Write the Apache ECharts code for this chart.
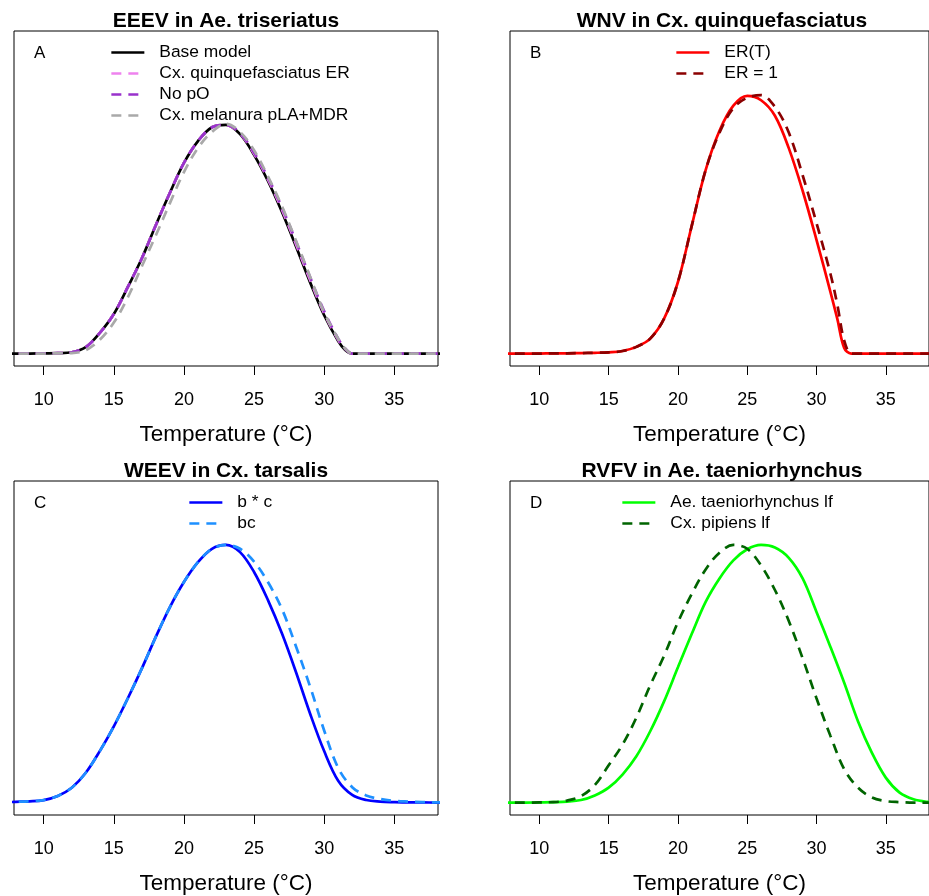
<!DOCTYPE html>
<html>
<head>
<meta charset="utf-8">
<script src="https://cdn.jsdelivr.net/npm/echarts@6/dist/echarts.min.js"></script>
<style>
  html, body { margin: 0; padding: 0; background: #ffffff; }
  #chart { width: 929px; height: 896px; }
</style>
</head>
<body>
<div id="chart"></div>
<script>
// ---- Panel A: EEEV in Ae. triseriatus (relative R0 vs temperature) ----
const tempsA = [7, 8, 9, 10, 11, 12, 13, 14, 15, 16, 17, 18, 19, 20, 21, 22, 23, 24, 25, 26, 27, 28, 29, 30, 31, 31.5, 32, 33, 34, 35, 36, 37, 38, 39];
const baseModel = [0, 0, 0, 0.001, 0.002, 0.006, 0.028, 0.09, 0.172, 0.29, 0.415, 0.56, 0.70, 0.83, 0.925, 0.985, 0.995, 0.955, 0.865, 0.75, 0.615, 0.465, 0.31, 0.167, 0.055, 0.016, 0, 0, 0, 0, 0, 0, 0, 0];
const quinqER   = [0, 0, 0, 0.001, 0.002, 0.006, 0.028, 0.09, 0.172, 0.29, 0.415, 0.56, 0.70, 0.83, 0.925, 0.985, 0.995, 0.958, 0.87, 0.757, 0.625, 0.475, 0.32, 0.175, 0.06, 0.02, 0, 0, 0, 0, 0, 0, 0, 0];
const noPO      = [0, 0, 0, 0.001, 0.002, 0.006, 0.028, 0.09, 0.172, 0.29, 0.415, 0.56, 0.70, 0.83, 0.925, 0.985, 0.995, 0.96, 0.875, 0.765, 0.635, 0.487, 0.332, 0.185, 0.065, 0.022, 0, 0, 0, 0, 0, 0, 0, 0];
const melanura  = [0, 0, 0, 0, 0.001, 0.002, 0.015, 0.06, 0.135, 0.245, 0.38, 0.515, 0.655, 0.79, 0.895, 0.965, 1.0, 0.965, 0.885, 0.77, 0.64, 0.49, 0.335, 0.18, 0.065, 0.022, 0, 0, 0, 0, 0, 0, 0, 0];

// ---- Panel B: WNV in Cx. quinquefasciatus ----
const tempsB = [7, 8, 9, 10, 11, 12, 13, 14, 15, 16, 17, 18, 19, 20, 21, 22, 23, 24, 25, 26, 27, 28, 29, 30, 31, 31.5, 32, 32.5, 33, 34, 35, 36, 37, 38, 39];
const erT   = [0, 0, 0, 0, 0.001, 0.001, 0.002, 0.003, 0.005, 0.01, 0.026, 0.058, 0.135, 0.277, 0.495, 0.71, 0.862, 0.959, 0.997, 0.98, 0.92, 0.795, 0.63, 0.44, 0.24, 0.135, 0.022, 0, 0, 0, 0, 0, 0, 0, 0];
const erOne = [0, 0, 0, 0, 0.001, 0.001, 0.002, 0.003, 0.005, 0.01, 0.026, 0.058, 0.135, 0.277, 0.495, 0.71, 0.855, 0.95, 0.99, 1.0, 0.955, 0.855, 0.69, 0.505, 0.31, 0.19, 0.05, 0, 0, 0, 0, 0, 0, 0, 0];

// ---- Panel C: WEEV in Cx. tarsalis ----
const tempsC = [7, 8, 9, 10, 11, 12, 13, 14, 15, 16, 17, 18, 19, 20, 21, 22, 23, 24, 25, 26, 27, 28, 29, 30, 31, 32, 33, 34, 35, 36, 37, 38, 39];
const bTimesC = [0.001, 0.003, 0.005, 0.01, 0.026, 0.058, 0.116, 0.2, 0.296, 0.405, 0.521, 0.644, 0.759, 0.856, 0.933, 0.985, 1.0, 0.972, 0.895, 0.785, 0.655, 0.505, 0.345, 0.2, 0.085, 0.03, 0.01, 0.004, 0.002, 0.001, 0.001, 0, 0];
const bcCombined = [0.001, 0.003, 0.005, 0.01, 0.026, 0.058, 0.116, 0.2, 0.296, 0.405, 0.521, 0.644, 0.759, 0.856, 0.933, 0.985, 1.0, 0.985, 0.935, 0.855, 0.75, 0.605, 0.45, 0.28, 0.135, 0.06, 0.028, 0.014, 0.007, 0.004, 0.002, 0.001, 0.001];

// ---- Panel D: RVFV in Ae. taeniorhynchus ----
const tempsD = [7, 8, 9, 10, 11, 12, 13, 14, 15, 16, 17, 18, 19, 20, 21, 22, 23, 24, 25, 26, 27, 28, 29, 30, 31, 32, 33, 34, 35, 36, 37, 38, 39];
const aeTaenLf = [0, 0, 0, 0.001, 0.002, 0.004, 0.01, 0.028, 0.058, 0.109, 0.18, 0.277, 0.393, 0.525, 0.655, 0.779, 0.87, 0.94, 0.983, 1.0, 0.99, 0.95, 0.87, 0.74, 0.605, 0.465, 0.315, 0.193, 0.097, 0.039, 0.013, 0.003, 0];
const cxPipLf  = [0, 0, 0, 0.001, 0.002, 0.008, 0.025, 0.068, 0.145, 0.225, 0.33, 0.455, 0.57, 0.70, 0.81, 0.905, 0.97, 1.0, 0.985, 0.92, 0.825, 0.705, 0.56, 0.405, 0.26, 0.13, 0.058, 0.02, 0.006, 0.002, 0, 0, 0];

const tickTemps = [10, 15, 20, 25, 30, 35];

const FONT = '"Liberation Sans", Arial, Helvetica, sans-serif';
const DASH = [10, 7];
const LINE_W = 2.7;

const panels = [
  { left: 14,  top: 31,  yMax: 1.35, title: 'EEEV in Ae. triseriatus',     letter: 'A', legendLeft: 110 },
  { left: 510, top: 31,  yMax: 1.2,  title: 'WNV in Cx. quinquefasciatus', letter: 'B', legendLeft: 675 },
  { left: 14,  top: 481, yMax: 1.2,  title: 'WEEV in Cx. tarsalis',        letter: 'C', legendLeft: 188 },
  { left: 510, top: 481, yMax: 1.2,  title: 'RVFV in Ae. taeniorhynchus',  letter: 'D', legendLeft: 621 }
];
const GRID_W = 424, GRID_H = 335;

const curves = [
  { panel: 0, name: 'Base model',              temps: tempsA, vals: baseModel,  color: '#000000', dash: 'solid' },
  { panel: 0, name: 'Cx. quinquefasciatus ER', temps: tempsA, vals: quinqER,    color: '#EE82EE', dash: DASH },
  { panel: 0, name: 'No pO',                   temps: tempsA, vals: noPO,       color: '#9932CC', dash: DASH },
  { panel: 0, name: 'Cx. melanura pLA+MDR',    temps: tempsA, vals: melanura,   color: '#A9A9A9', dash: DASH },
  { panel: 1, name: 'ER(T)',                   temps: tempsB, vals: erT,        color: '#FF0000', dash: 'solid' },
  { panel: 1, name: 'ER = 1',                  temps: tempsB, vals: erOne,      color: '#8B0000', dash: DASH },
  { panel: 2, name: 'b * c',                   temps: tempsC, vals: bTimesC,    color: '#0000FF', dash: 'solid' },
  { panel: 2, name: 'bc',                      temps: tempsC, vals: bcCombined, color: '#1E90FF', dash: DASH },
  { panel: 3, name: 'Ae. taeniorhynchus lf',   temps: tempsD, vals: aeTaenLf,   color: '#00FF00', dash: 'solid' },
  { panel: 3, name: 'Cx. pipiens lf',          temps: tempsD, vals: cxPipLf,    color: '#006400', dash: DASH }
];

const grid = panels.map(p => ({
  left: p.left, top: p.top, width: GRID_W, height: GRID_H,
  show: true, borderColor: '#000', borderWidth: 1, backgroundColor: 'transparent'
}));

const xAxis = panels.map((p, i) => ({
  type: 'value', gridIndex: i, min: 7.88, max: 38.12, position: 'bottom',
  name: 'Temperature (\u00B0C)', nameLocation: 'middle', nameGap: 57,
  nameTextStyle: { fontFamily: FONT, fontSize: 22.5, color: '#000' },
  axisLine: { show: false, onZero: false },
  splitLine: { show: false },
  axisTick: { show: true, inside: false, length: 9, customValues: tickTemps, lineStyle: { color: '#000', width: 1 } },
  axisLabel: { show: true, margin: 25, customValues: tickTemps, fontFamily: FONT, fontSize: 18, color: '#000' }
}));

const yAxis = panels.map((p, i) => ({
  type: 'value', gridIndex: i, show: false,
  min: -0.04 * p.yMax, max: 1.04 * p.yMax,
  splitLine: { show: false }
}));

const series = curves.map((c, k) => ({
  type: 'line', name: c.name,
  xAxisIndex: c.panel, yAxisIndex: c.panel,
  data: c.temps.map((t, j) => [t, c.vals[j]]),
  showSymbol: false, symbol: 'none', smooth: 0.35, clip: true,
  lineStyle: { color: c.color, width: LINE_W, type: c.dash, cap: 'butt' },
  itemStyle: { color: c.color },
  z: 2 + k, silent: true, animation: false
}));

const legend = panels.map((p, i) => ({
  data: curves.filter(c => c.panel === i).map(c => c.name),
  orient: 'vertical', left: p.legendLeft, top: p.top + 13, padding: 0,
  itemWidth: 33, itemHeight: 17, itemGap: 4,
  selectedMode: false,
  itemStyle: { opacity: 0 },
  lineStyle: { width: LINE_W },
  textStyle: { fontFamily: FONT, fontSize: 17.4, color: '#000', padding: [0, 0, 0, 10] }
}));

const title = [];
panels.forEach(p => {
  title.push({
    text: p.title, left: p.left + GRID_W / 2, top: p.top - 20, textAlign: 'center', padding: 0,
    textStyle: { fontFamily: FONT, fontSize: 21, fontWeight: 'bold', color: '#000' }
  });
  title.push({
    text: p.letter, left: p.left + 20, top: p.top + 14, padding: 0,
    textStyle: { fontFamily: FONT, fontSize: 17, fontWeight: 'normal', color: '#000' }
  });
});

const chart = echarts.init(document.getElementById('chart'), null, { renderer: 'canvas' });
chart.setOption({
  backgroundColor: '#ffffff',
  animation: false,
  title, legend, grid, xAxis, yAxis, series
});
</script>
</body>
</html>
